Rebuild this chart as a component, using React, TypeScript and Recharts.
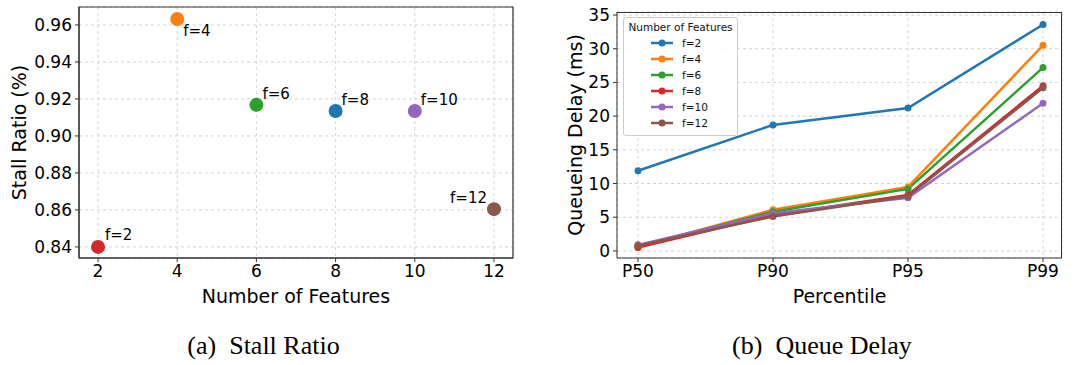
import React from 'react';
import {
  ScatterChart, Scatter, LineChart, Line, XAxis, YAxis, CartesianGrid,
  Legend, Label, Cell, ReferenceArea,
} from 'recharts';

// (a) stall ratio per feature count
const featureCounts = [2, 4, 6, 8, 10, 12];
const stallRatios = [0.840, 0.9632, 0.9168, 0.9135, 0.9135, 0.8604];
const stallColors = ['#d62728', '#ff7f0e', '#2ca02c', '#1f77b4', '#9467bd', '#8c564b'];

// (b) queueing delay per percentile
const percentiles = ['P50', 'P90', 'P95', 'P99'];
const delayF2 = [11.9, 18.7, 21.2, 33.6];
const delayF4 = [0.6, 6.1, 9.5, 30.5];
const delayF6 = [0.7, 5.8, 9.2, 27.2];
const delayF8 = [0.5, 5.3, 8.3, 24.5];
const delayF10 = [0.9, 5.6, 7.9, 21.9];
const delayF12 = [0.8, 5.1, 8.1, 24.2];

const lineSeries = [
  { key: 'f=2', values: delayF2, color: '#1f77b4' },
  { key: 'f=4', values: delayF4, color: '#ff7f0e' },
  { key: 'f=6', values: delayF6, color: '#2ca02c' },
  { key: 'f=8', values: delayF8, color: '#d62728' },
  { key: 'f=10', values: delayF10, color: '#9467bd' },
  { key: 'f=12', values: delayF12, color: '#8c564b' },
];

const xTicksA = [2, 4, 6, 8, 10, 12];
const yTicksA = [0.84, 0.86, 0.88, 0.90, 0.92, 0.94, 0.96];
const yTicksB = [0, 5, 10, 15, 20, 25, 30, 35];

const FONT = '"DejaVu Sans", sans-serif';
const GRID = '#d4d4d4';
const FRAME = '#333';

const scatterData = featureCounts.map((f, i) => ({ f, ratio: stallRatios[i], name: `f=${f}` }));
const lineData = percentiles.map((p, i) => {
  const row: Record<string, any> = { p };
  lineSeries.forEach((s) => { row[s.key] = s.values[i]; });
  return row;
});

// where each annotation sits relative to its dot
const labelSide: Record<string, [number, number, string]> = {
  'f=2': [7, -12, 'start'],
  'f=4': [6, 12, 'start'],
  'f=6': [6, -11, 'start'],
  'f=8': [6, -11, 'start'],
  'f=10': [6, -11, 'start'],
  'f=12': [-7, -11, 'end'],
};

const DotWithLabel = (props: any) => {
  const { cx, cy, fill, payload } = props;
  const [dx, dy, anchor] = labelSide[payload.name];
  return (
    <g>
      <circle cx={cx} cy={cy} r={7} fill={fill} />
      <text x={cx + dx} y={cy + dy} dy="0.35em" textAnchor={anchor}
        fontSize={15} fontFamily={FONT} fill="#000">{payload.name}</text>
    </g>
  );
};

const LegendBox = () => (
  <div style={{
    border: '1px solid #ccc', borderRadius: 3, background: 'rgba(255,255,255,0.85)',
    fontFamily: FONT, fontSize: 10.5, color: '#111', padding: '3px 4px 4px 4px', width: 105,
  }}>
    <div style={{ textAlign: 'center', marginBottom: 2 }}>Number of Features</div>
    {lineSeries.map((s) => (
      <div key={s.key} style={{ display: 'flex', alignItems: 'center', height: 16 }}>
        <svg width={50} height={10}>
          <line x1={23} x2={45} y1={5} y2={5} stroke={s.color} strokeWidth={2.5} />
          <circle cx={34} cy={5} r={3.5} fill={s.color} />
        </svg>
        <span style={{ marginLeft: 4 }}>{s.key}</span>
      </div>
    ))}
  </div>
);

const tickStyle = { fontSize: 17, fontFamily: FONT, fill: '#000' };

export default function App() {
  return (
    <div style={{ position: 'absolute', left: 0, top: 0, width: 1078, height: 365, background: '#fff' }}>
      <div style={{ position: 'absolute', left: 0, top: 0 }}>
        <ScatterChart width={540} height={310} margin={{ top: 7, right: 27, bottom: 0, left: 0 }}>
          <CartesianGrid stroke={GRID} strokeDasharray="3 3" />
          <XAxis type="number" dataKey="f" domain={[1.52, 12.48]} ticks={xTicksA}
            height={52} tickSize={4} tickMargin={3} tick={tickStyle}
            stroke={FRAME} tickLine={{ stroke: FRAME }}>
            <Label value="Number of Features" position="insideBottom" offset={7}
              style={{ fontSize: 19, fontFamily: FONT, fill: '#000' }} />
          </XAxis>
          <YAxis type="number" dataKey="ratio" domain={[0.834, 0.9697]} ticks={yTicksA}
            allowDataOverflow width={79} tickSize={4} tickMargin={3} tick={tickStyle}
            tickFormatter={(v: number) => v.toFixed(2)} stroke={FRAME} tickLine={{ stroke: FRAME }}>
            <Label value="Stall Ratio (%)" angle={-90} position="insideLeft" offset={19}
              style={{ fontSize: 19, fontFamily: FONT, fill: '#000', textAnchor: 'middle' }} />
          </YAxis>
          <ReferenceArea x1={1.52} x2={12.48} y1={0.834} y2={0.9697} fill="none"
            stroke={FRAME} strokeWidth={1.2} ifOverflow="visible" />
          <Scatter data={scatterData} shape={DotWithLabel} isAnimationActive={false}>
            {scatterData.map((d, i) => <Cell key={d.name} fill={stallColors[i]} />)}
          </Scatter>
        </ScatterChart>
      </div>

      <div style={{ position: 'absolute', left: 540, top: 0 }}>
        <LineChart width={538} height={310} data={lineData} margin={{ top: 12, right: 16, bottom: 0, left: 0 }}>
          <CartesianGrid stroke={GRID} strokeDasharray="3 3" />
          <XAxis dataKey="p" padding={{ left: 21, right: 19 }} height={52} tickSize={4}
            tickMargin={3} tick={tickStyle} stroke={FRAME} tickLine={{ stroke: FRAME }}>
            <Label value="Percentile" position="insideBottom" offset={7}
              style={{ fontSize: 19, fontFamily: FONT, fill: '#000' }} />
          </XAxis>
          <YAxis domain={[-1.05, 35.45]} ticks={yTicksB} allowDataOverflow width={77}
            tickSize={4} tickMargin={3} tick={tickStyle} stroke={FRAME} tickLine={{ stroke: FRAME }}>
            <Label value="Queueing Delay (ms)" angle={-90} position="insideLeft" offset={35}
              style={{ fontSize: 19, fontFamily: FONT, fill: '#000', textAnchor: 'middle' }} />
          </YAxis>
          <Legend layout="vertical" align="center" verticalAlign="middle"
            wrapperStyle={{ left: 83, top: 17, width: 115 }} content={LegendBox} />
          {lineSeries.map((s) => (
            <Line key={s.key} dataKey={s.key} name={s.key} stroke={s.color} strokeWidth={2.5}
              dot={{ r: 3.5, fill: s.color, stroke: s.color, strokeWidth: 0 }}
              isAnimationActive={false} />
          ))}
        </LineChart>
        {/* plot frame: the category padding keeps a reference area off the edges */}
        <div style={{
          position: 'absolute', left: 77, top: 12, width: 445, height: 246,
          borderTop: `1.2px solid ${FRAME}`, borderRight: `1.2px solid ${FRAME}`,
          boxSizing: 'border-box', pointerEvents: 'none',
        }} />
      </div>

      <div style={{
        position: 'absolute', left: 0, width: 527, top: 331, textAlign: 'center',
        fontFamily: '"Liberation Serif", serif', fontSize: 26, whiteSpace: 'pre',
      }}>(a)  Stall Ratio</div>
      <div style={{
        position: 'absolute', left: 540, width: 564, top: 331, textAlign: 'center',
        fontFamily: '"Liberation Serif", serif', fontSize: 26, whiteSpace: 'pre',
      }}>(b)  Queue Delay</div>
    </div>
  );
}
